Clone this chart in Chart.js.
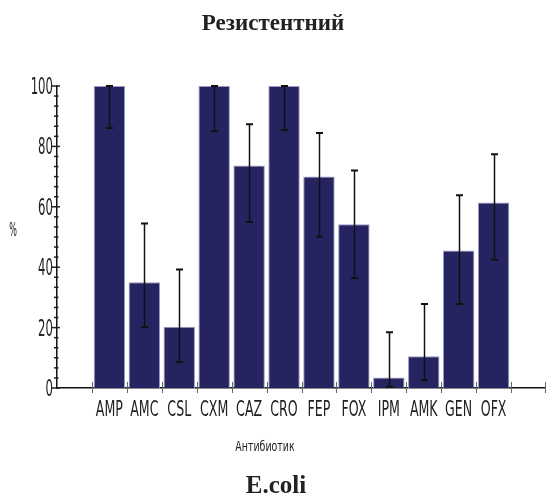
<!DOCTYPE html>
<html>
<head>
<meta charset="utf-8">
<script src="https://cdn.jsdelivr.net/npm/chart.js@4/dist/chart.umd.min.js"></script>
<style>
  html, body { margin: 0; padding: 0; background: #fff; }
  #wrap { width: 546px; height: 498px; }
</style>
</head>
<body>
<div id="wrap"><canvas id="resChart" width="546" height="498"></canvas></div>
<script>
// empty slot at each end of the axis, like the original
const categories = ['', 'AMP', 'AMC', 'CSL', 'CXM', 'CAZ', 'CRO', 'FEP', 'FOX', 'IPM', 'AMK', 'GEN', 'OFX', ''];
const resistant  = [null, 100, 35, 20.3, 100, 73.7, 100, 70, 54.2, 3.5, 10.5, 45.5, 61.4, null];
const errLow     = [null, 86.1, 20.1, 8.6, 85, 55, 85.4, 50.1, 36.4, 0.4, 2.6, 27.8, 42.5, null];
const errHigh    = [null, 100, 54.5, 39.2, 100, 87.3, 100, 84.4, 72, 18.5, 27.8, 63.8, 77.4, null];
const yMajor = [0, 20, 40, 60, 80, 100];

const NARROW = '"Liberation Sans Narrow", "DejaVu Sans Condensed", sans-serif';
const SERIF = '"Liberation Serif", "Times New Roman", serif';

// stretched text, the labels in the original are tall and thin
function tallText(ctx, text, x, baseline, size, sy, align) {
  ctx.save();
  ctx.font = size + 'px ' + NARROW;
  ctx.textAlign = align;
  ctx.textBaseline = 'alphabetic';
  ctx.translate(x, baseline);
  ctx.scale(1, sy);
  ctx.fillText(text, 0, 0);
  ctx.restore();
}

const decor = {
  id: 'decor',
  beforeDatasetsDraw(chart) {
    const ctx = chart.ctx, xs = chart.scales.x, ys = chart.scales.y;
    const y0 = ys.getPixelForValue(0);
    ctx.save();
    // x tick marks between categories
    ctx.strokeStyle = '#666';
    ctx.lineWidth = 1;
    for (let i = 1; i < categories.length; i++) {
      const x = Math.round((xs.getPixelForValue(i - 1) + xs.getPixelForValue(i)) / 2) + 0.5;
      ctx.beginPath(); ctx.moveTo(x, y0 - 6); ctx.lineTo(x, y0 + 5); ctx.stroke();
    }
    const xr = xs.right - 0.5;
    ctx.beginPath(); ctx.moveTo(xr, y0 - 6); ctx.lineTo(xr, y0 + 5); ctx.stroke();
    ctx.restore();
  },
  afterDatasetsDraw(chart) {
    const ctx = chart.ctx, xs = chart.scales.x, ys = chart.scales.y;
    const ax = ys.right;
    ctx.save();
    // error bars
    ctx.strokeStyle = '#111';
    for (let i = 0; i < categories.length; i++) {
      if (errLow[i] == null) continue;
      const x = Math.round(xs.getPixelForValue(i)) + 0.5;
      const lo = ys.getPixelForValue(errLow[i]);
      const hi = ys.getPixelForValue(errHigh[i]);
      ctx.lineWidth = 1.5;
      ctx.beginPath(); ctx.moveTo(x, lo); ctx.lineTo(x, hi); ctx.stroke();
      ctx.lineWidth = 2;
      ctx.beginPath();
      ctx.moveTo(x - 3.5, lo); ctx.lineTo(x + 3.5, lo);
      ctx.moveTo(x - 3.5, hi); ctx.lineTo(x + 3.5, hi);
      ctx.stroke();
    }
    // y ticks, major and minor
    ctx.strokeStyle = '#222';
    ctx.lineWidth = 1.5;
    for (let v = 0; v <= 100.01; v += 20 / 6) {
      const y = ys.getPixelForValue(v);
      const major = Math.abs(v / 20 - Math.round(v / 20)) < 0.01;
      ctx.beginPath();
      ctx.moveTo(ax - (major ? 5 : 3), y);
      ctx.lineTo(ax + (major ? 3 : 1.5), y);
      ctx.stroke();
    }
    // tick labels
    ctx.fillStyle = '#222';
    yMajor.forEach(v => {
      const y = ys.getPixelForValue(v);
      tallText(ctx, String(v), ax - 4, y + 8, 13, 1.7, 'right');
    });
    categories.forEach((c, i) => {
      if (!c) return;
      tallText(ctx, c, xs.getPixelForValue(i), 415.5, 14, 1.45, 'center');
    });
    // axis titles
    tallText(ctx, 'Антибиотик', 265, 450.5, 10.5, 1.35, 'center');
    tallText(ctx, '%', 13, 236, 9, 2.1, 'center');
    // bottom caption
    ctx.font = 'bold 25px ' + SERIF;
    ctx.textAlign = 'center';
    ctx.textBaseline = 'alphabetic';
    ctx.fillStyle = '#222';
    ctx.fillText('E.coli', 276, 493);
    ctx.restore();
  }
};

new Chart(document.getElementById('resChart'), {
  type: 'bar',
  data: {
    labels: categories,
    datasets: [{
      label: 'Резистентний',
      data: resistant,
      backgroundColor: '#262361',
      borderColor: '#9c9bc4',
      borderWidth: 1,
      barPercentage: 0.9,
      categoryPercentage: 1
    }]
  },
  options: {
    responsive: false,
    animation: false,
    layout: { padding: 0 },
    plugins: {
      legend: { display: false },
      tooltip: { enabled: false },
      title: {
        display: true,
        text: 'Резистентний',
        color: '#222',
        font: { family: SERIF, size: 23, weight: 'bold' },
        padding: { top: 10, bottom: 48.4 }
      }
    },
    scales: {
      x: {
        grid: { display: false, drawTicks: false },
        ticks: { display: false },
        border: { display: true, color: '#111', width: 1.5 },
        afterFit(scale) { scale.height = 110; }
      },
      y: {
        min: 0,
        max: 100,
        grid: { display: false, drawTicks: false },
        ticks: { display: false },
        border: { display: true, color: '#111', width: 1.5 },
        afterFit(scale) { scale.width = 57; }
      }
    }
  },
  plugins: [decor]
});
</script>
</body>
</html>
